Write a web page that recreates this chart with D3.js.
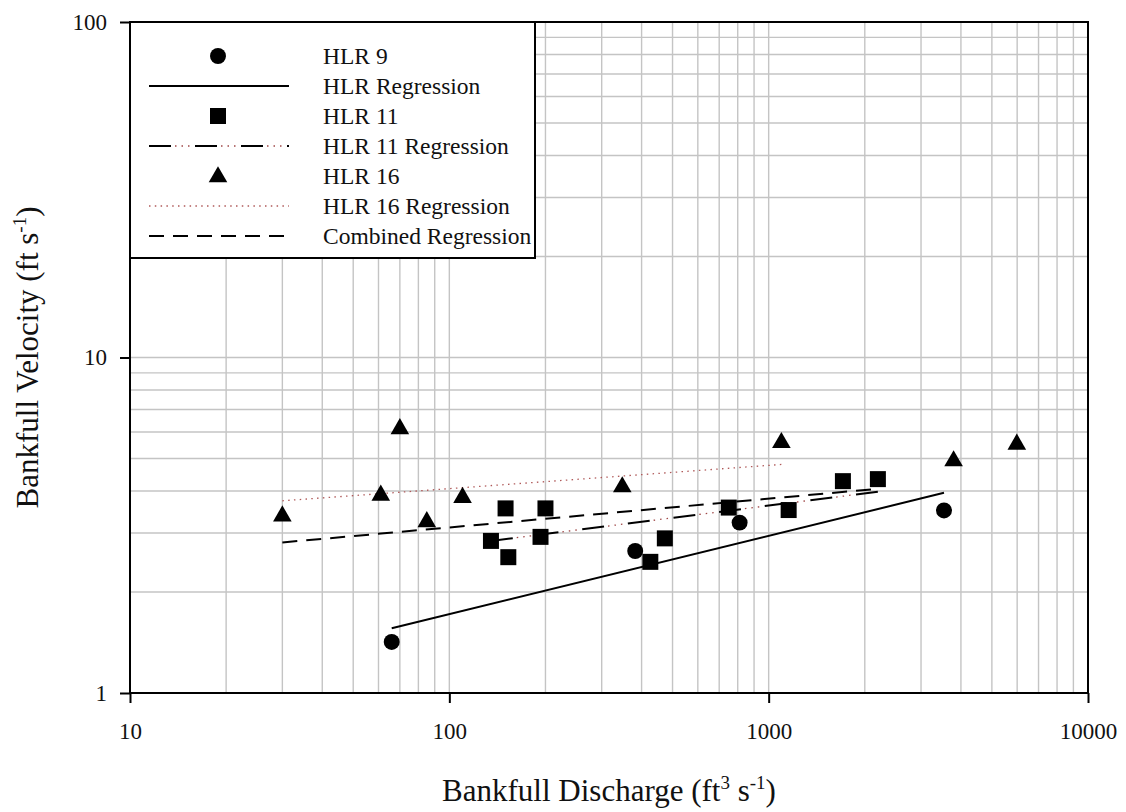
<!DOCTYPE html>
<html>
<head>
<meta charset="utf-8">
<script src="https://cdn.jsdelivr.net/npm/d3@7"></script>
<style>
  body { margin: 0; background: #fff; }
  svg text { font-family: "Liberation Serif", "DejaVu Serif", serif; fill: #111; }
</style>
</head>
<body>
<div id="chart"></div>
<script>
// site data
const hlr9Q = [66, 382, 811, 3540];
const hlr9V = [1.42, 2.65, 3.22, 3.50];
const hlr11Q = [135, 150, 153, 193, 200, 426, 473, 750, 1155, 1708, 2198];
const hlr11V = [2.84, 3.55, 2.54, 2.92, 3.55, 2.46, 2.89, 3.57, 3.51, 4.28, 4.34];
const hlr16Q = [30, 61, 70, 85, 110, 348, 1096, 3794, 5985];
const hlr16V = [3.39, 3.91, 6.17, 3.26, 3.85, 4.14, 5.61, 4.95, 5.55];

// regression end points
const hlrRegQ = [66, 3540];
const hlrRegV = [1.56, 3.95];
const hlr11RegQ = [135, 2198];
const hlr11RegV = [2.84, 3.98];
const hlr16RegQ = [30, 1096];
const hlr16RegV = [3.74, 4.80];
const combRegQ = [30, 2198];
const combRegV = [2.81, 4.06];

const xTicks = [10, 100, 1000, 10000];
const yTicks = [1, 10, 100];
const legendLabels = ['HLR 9', 'HLR Regression', 'HLR 11', 'HLR 11 Regression', 'HLR 16', 'HLR 16 Regression', 'Combined Regression'];

const width = 1126, height = 812;
const margin = { left: 130, top: 22, right: 38, bottom: 119 };
const w = width - margin.left - margin.right;
const h = height - margin.top - margin.bottom;

const svg = d3.select('#chart').append('svg')
  .attr('width', width)
  .attr('height', height);

const g = svg.append('g')
  .attr('transform', 'translate(' + margin.left + ',' + margin.top + ')');

const x = d3.scaleLog().domain([10, 10000]).range([0, w]);
const y = d3.scaleLog().domain([1, 100]).range([h, 0]);

// minor grid
const gridX = [];
const gridY = [];
[10, 100, 1000].forEach(d => { for (let k = 1; k < 10; k++) gridX.push(d * k); });
[1, 10].forEach(d => { for (let k = 1; k < 10; k++) gridY.push(d * k); });

g.append('g').selectAll('line').data(gridX.filter(d => d > 10)).enter()
  .append('line')
  .attr('x1', d => x(d)).attr('x2', d => x(d))
  .attr('y1', 0).attr('y2', h)
  .attr('stroke', '#c4c4c4').attr('stroke-width', 1.4);

g.append('g').selectAll('line').data(gridY.filter(d => d > 1)).enter()
  .append('line')
  .attr('x1', 0).attr('x2', w)
  .attr('y1', d => y(d)).attr('y2', d => y(d))
  .attr('stroke', '#c4c4c4').attr('stroke-width', 1.4);

// frame
g.append('rect')
  .attr('width', w).attr('height', h)
  .attr('fill', 'none').attr('stroke', '#000').attr('stroke-width', 2);

// axes
const xAxis = g.append('g')
  .attr('transform', 'translate(0,' + h + ')')
  .call(d3.axisBottom(x).tickValues(xTicks).tickFormat(d3.format('d')).tickSize(10).tickPadding(20));
const yAxis = g.append('g')
  .call(d3.axisLeft(y).tickValues(yTicks).tickFormat(d3.format('d')).tickSize(10).tickPadding(13));

[xAxis, yAxis].forEach(a => {
  a.select('.domain').remove();
  a.selectAll('line').attr('stroke', '#000').attr('stroke-width', 2);
  a.selectAll('text').style('font-size', '23px').attr('fill', '#111');
});

const line = d3.line().x(d => x(d[0])).y(d => y(d[1]));
const pairs = (q, v) => q.map((d, i) => [d, v[i]]);

// regressions
g.append('path').datum(pairs(hlrRegQ, hlrRegV))
  .attr('d', line).attr('fill', 'none')
  .attr('stroke', '#000').attr('stroke-width', 2);

g.append('path').datum(pairs(hlr16RegQ, hlr16RegV))
  .attr('d', line).attr('fill', 'none')
  .attr('stroke', '#b05a5a').attr('stroke-width', 1.3)
  .attr('stroke-dasharray', '1.5 4.3');

g.append('path').datum(pairs(hlr11RegQ, hlr11RegV))
  .attr('d', line).attr('fill', 'none')
  .attr('stroke', '#000').attr('stroke-width', 2)
  .attr('stroke-dasharray', '22 24');
g.append('path').datum(pairs(hlr11RegQ, hlr11RegV))
  .attr('d', line).attr('fill', 'none')
  .attr('stroke', '#a04848').attr('stroke-width', 1.3)
  .attr('stroke-dasharray', '0 26 1.5 5 1.5 5 1.5 5.5');

g.append('path').datum(pairs(combRegQ, combRegV))
  .attr('d', line).attr('fill', 'none')
  .attr('stroke', '#000').attr('stroke-width', 2)
  .attr('stroke-dasharray', '15 9');

// markers
const circle = d3.symbol().type(d3.symbolCircle).size(200);
const square = d3.symbol().type(d3.symbolSquare).size(256);
const tri = d3.symbol().type(d3.symbolTriangle).size(150);

g.append('g').selectAll('path').data(pairs(hlr9Q, hlr9V)).enter()
  .append('path').attr('d', circle)
  .attr('transform', d => 'translate(' + x(d[0]) + ',' + y(d[1]) + ')');
g.append('g').selectAll('path').data(pairs(hlr11Q, hlr11V)).enter()
  .append('path').attr('d', square)
  .attr('transform', d => 'translate(' + x(d[0]) + ',' + y(d[1]) + ')');
g.append('g').selectAll('path').data(pairs(hlr16Q, hlr16V)).enter()
  .append('path').attr('d', tri)
  .attr('transform', d => 'translate(' + x(d[0]) + ',' + (y(d[1]) + 1) + ')');

// legend
const leg = g.append('g');
leg.append('rect')
  .attr('x', 0).attr('y', 0).attr('width', 405).attr('height', 236)
  .attr('fill', '#fff').attr('stroke', '#000').attr('stroke-width', 2);

const rowY = i => 34 + i * 30;
const mx = 88;
leg.append('path').attr('d', circle).attr('transform', 'translate(' + mx + ',' + rowY(0) + ')');
leg.append('line').attr('x1', 19).attr('x2', 159).attr('y1', rowY(1)).attr('y2', rowY(1))
  .attr('stroke', '#000').attr('stroke-width', 2);
leg.append('path').attr('d', square).attr('transform', 'translate(' + mx + ',' + rowY(2) + ')');
leg.append('line').attr('x1', 19).attr('x2', 159).attr('y1', rowY(3)).attr('y2', rowY(3))
  .attr('stroke', '#000').attr('stroke-width', 2).attr('stroke-dasharray', '22 24');
leg.append('line').attr('x1', 19).attr('x2', 159).attr('y1', rowY(3)).attr('y2', rowY(3))
  .attr('stroke', '#a04848').attr('stroke-width', 1.3).attr('stroke-dasharray', '0 26 1.5 5 1.5 5 1.5 5.5');
leg.append('path').attr('d', tri).attr('transform', 'translate(' + mx + ',' + (rowY(4) + 1) + ')');
leg.append('line').attr('x1', 19).attr('x2', 159).attr('y1', rowY(5)).attr('y2', rowY(5))
  .attr('stroke', '#b05a5a').attr('stroke-width', 1.3).attr('stroke-dasharray', '1.5 4.3');
leg.append('line').attr('x1', 19).attr('x2', 159).attr('y1', rowY(6)).attr('y2', rowY(6))
  .attr('stroke', '#000').attr('stroke-width', 2).attr('stroke-dasharray', '15 9');

leg.selectAll('text.lab').data(legendLabels).enter()
  .append('text').attr('class', 'lab')
  .attr('x', 193).attr('y', (d, i) => rowY(i))
  .attr('dy', '0.35em')
  .style('font-size', '23.5px')
  .text(d => d);

// axis titles
const xt = svg.append('text')
  .attr('x', margin.left + w / 2).attr('y', 801)
  .attr('text-anchor', 'middle').style('font-size', '31px');
xt.append('tspan').text('Bankfull Discharge (ft');
xt.append('tspan').attr('dy', -12).style('font-size', '19px').text('3');
xt.append('tspan').attr('dy', 12).text(' s');
xt.append('tspan').attr('dy', -12).style('font-size', '19px').text('-1');
xt.append('tspan').attr('dy', 12).text(')');

const yt = svg.append('text')
  .attr('transform', 'translate(38,' + (margin.top + h / 2) + ') rotate(-90)')
  .attr('text-anchor', 'middle').style('font-size', '31px');
yt.append('tspan').text('Bankfull Velocity (ft s');
yt.append('tspan').attr('dy', -12).style('font-size', '19px').text('-1');
yt.append('tspan').attr('dy', 12).text(')');
</script>
</body>
</html>
